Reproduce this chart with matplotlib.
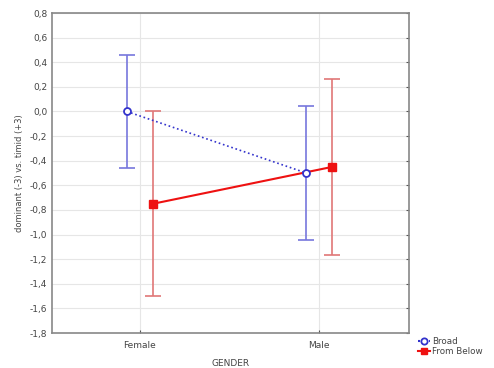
import matplotlib.pyplot as plt
import numpy as np
from matplotlib.lines import Line2D

categories = ["Female", "Male"]
broad_mean = [0.0, -0.50]
broad_low = [-0.46, -1.045]
broad_high = [0.46, 0.045]
below_mean = [-0.75, -0.45]
below_low = [-1.50, -1.17]
below_high = [0.005, 0.265]

yticks = np.round(np.arange(-1.8, 0.81, 0.2), 1)

fig = plt.figure(figsize=(4.94, 3.68), dpi=100)
ax = fig.add_axes([52 / 494, 1 - 333 / 368, 357 / 494, 320 / 368])

x = np.arange(len(categories))
off = 0.073

# Broad: blue dotted line, open circles
bm = np.array(broad_mean)
ax.errorbar(x - off, bm, yerr=[bm - np.array(broad_low), np.array(broad_high) - bm],
            fmt='none', ecolor='#7777dd', elinewidth=1.2, capsize=6, capthick=1.2, zorder=2)
ax.plot(x - off, bm, color='#3333cc', linestyle=':', linewidth=1.2, marker='o',
        markersize=5, markerfacecolor='white', markeredgecolor='#3333cc',
        markeredgewidth=1.3, zorder=4)

# From Below: red solid line, filled squares
fm = np.array(below_mean)
ax.errorbar(x + off, fm, yerr=[fm - np.array(below_low), np.array(below_high) - fm],
            fmt='none', ecolor='#e07777', elinewidth=1.2, capsize=6, capthick=1.2, zorder=2)
ax.plot(x + off, fm, color='#ee1111', linestyle='-', linewidth=1.5, marker='s',
        markersize=5.5, markerfacecolor='#ee1111', markeredgecolor='#ee1111', zorder=3)

ax.set_xlim(-0.49, 1.50)
ax.set_ylim(-1.8, 0.8)
ax.set_yticks(yticks)
ylabels = [f"{v:.1f}".replace('.', ',') for v in yticks]
ylabels = [lab.replace('-0,0', '0,0') for lab in ylabels]
ax.set_yticklabels(ylabels, fontsize=6.5, color='#444444')
ax.set_xticks(x)
ax.set_xticklabels(categories, fontsize=6.5, color='#444444')
ax.tick_params(axis='x', direction='in', length=2, color='#555555', pad=6)
ax.tick_params(axis='y', direction='in', length=2, color='#555555', right=True, left=False)
ax.grid(True, color='#e6e6e6', linewidth=0.8)
ax.set_axisbelow(True)
for s in ax.spines.values():
    s.set_color('#888888')
    s.set_linewidth(1.2)

ax.set_xlabel("GENDER", fontsize=6.5, color='#444444', labelpad=6)
ax.set_ylabel("dominant (-3) vs. timid (+3)", fontsize=6, color='#444444', labelpad=4)

# legend at lower right outside the plot box
h1 = Line2D([], [], color='#3333cc', linestyle=':', marker='o', markersize=4.5,
            markerfacecolor='white', markeredgewidth=1.3)
h2 = Line2D([], [], color='#ee1111', linestyle='-', marker='s', markersize=5)
fig.legend([h1, h2], ["Broad", "From Below"], loc='upper left',
           bbox_to_anchor=(412 / 494, 1 - 331 / 368), frameon=False, fontsize=6.3,
           handlelength=1.3, handletextpad=0.3, labelspacing=0.05, borderpad=0.2,
           labelcolor='#444444')

fig.savefig("out.png", dpi=100)
